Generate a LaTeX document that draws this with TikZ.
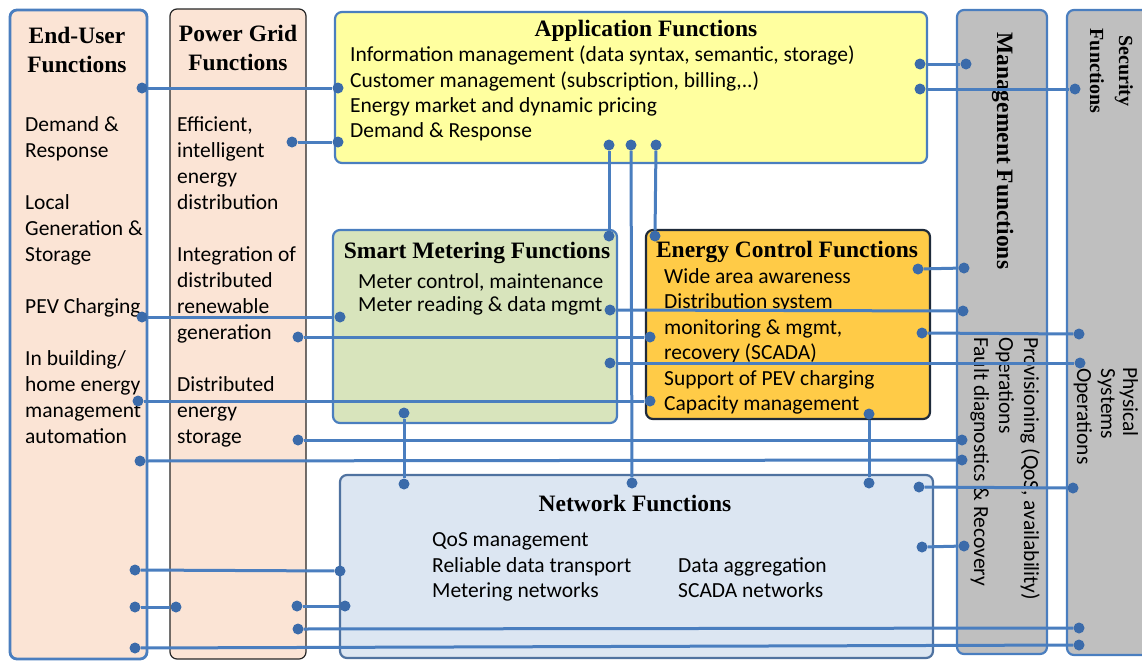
\documentclass[tikz,border=0pt]{standalone}
\usepackage{fontspec}
\setmainfont{Carlito}
\newfontfamily\ttlfont{Liberation Serif}
\definecolor{peach}{HTML}{FBE4D5}
\definecolor{appyel}{HTML}{FFFF9F}
\definecolor{smgreen}{HTML}{D8E4BC}
\definecolor{ecorange}{HTML}{FFCB47}
\definecolor{netblue}{HTML}{DCE6F2}
\definecolor{mgray}{HTML}{BFBFBF}
\definecolor{lineblue}{HTML}{4A7EBF}
\definecolor{dotblue}{HTML}{3B6BAA}
\definecolor{darkedge}{HTML}{1E2A3A}
\definecolor{netedge}{HTML}{4F72A0}
\begin{document}
\begin{tikzpicture}[x=1pt,y=-1pt,
  box/.style={rounded corners=7pt, anchor=north west, inner sep=0pt, outer sep=0pt},
  ttl/.style={font=\ttlfont\bfseries\fontsize{23.5}{26}\selectfont, inner sep=0pt, anchor=base},
  sttl/.style={font=\ttlfont\bfseries\fontsize{20}{24}\selectfont, inner sep=0pt, anchor=base},
  txt/.style={font=\fontsize{21.5}{26}\selectfont, inner sep=0pt, anchor=base west},
  dot/.style={circle, fill=dotblue, inner sep=0pt, minimum size=11pt},
  conn/.style={draw=lineblue, line width=3pt}]
\useasboundingbox (0,0) rectangle (1142,662);
\begin{scope}
\clip (0,0) rectangle (1142,662);
% boxes
\node[box, draw=lineblue, line width=2.8pt, fill=peach, minimum width=137pt, minimum height=649pt] (eu) at (10,10) {};
\node[box, draw=black!85, line width=1.2pt, fill=peach, minimum width=136pt, minimum height=650pt] (pg) at (170,9) {};
\node[box, draw=lineblue, line width=2.2pt, fill=appyel, minimum width=592pt, minimum height=151pt] (app) at (335,12) {};
\node[box, draw=lineblue, line width=2.2pt, fill=smgreen, minimum width=284pt, minimum height=193pt] (sm) at (333,230) {};
\node[box, draw=darkedge, line width=2.2pt, fill=ecorange, minimum width=284pt, minimum height=189pt] (ec) at (646,230) {};
\node[box, draw=netedge, line width=2.2pt, fill=netblue, minimum width=593pt, minimum height=183pt] (net) at (340,475) {};
\node[box, draw=lineblue, line width=2.2pt, fill=mgray, minimum width=90pt, minimum height=644pt] (mg) at (957,10) {};
\node[box, draw=lineblue, line width=2.2pt, fill=mgray, minimum width=100pt, minimum height=645pt] (sec) at (1067,10) {};
% titles
\node[ttl] (eut1) at (77,43) {End-User};
\node[ttl] (eut2) at (77,72) {Functions};
\node[ttl] (pgt1) at (238,41) {Power Grid};
\node[ttl] (pgt2) at (238,70) {Functions};
\node[ttl] (appt) at (646,36) {Application Functions};
\node[ttl] (smt) at (477,258) {Smart Metering Functions};
\node[ttl] (ect) at (787,257) {Energy Control Functions};
\node[ttl] (nett) at (635,511) {Network Functions};
\node[ttl, rotate=-90, anchor=base west] (mgt) at (997,32) {Management Functions};
\node[sttl, rotate=-90] (sect1) at (1119,71) {Security};
\node[sttl, rotate=-90] (sect2) at (1090,71) {Functions};
% end-user body
\foreach \t/\y [count=\i] in {{Demand \&}/131, Response/157, Local/209, {Generation \&}/235, Storage/261, {PEV Charging}/313, {In building/}/365, {home energy}/391, management/417, automation/443}
  \node[txt] (eub\i) at (25,\y) {\t};
% power grid body
\foreach \t/\y [count=\i] in {{Efficient,}/131, intelligent/157, energy/183, distribution/209, {Integration of}/261, distributed/287, renewable/313, generation/339, Distributed/391, energy/417, storage/443}
  \node[txt] (pgb\i) at (177,\y) {\t};
% application body
\foreach \t/\y [count=\i] in {{Information management (data syntax, semantic, storage)}/61, {Customer management (subscription, billing,..)}/87, {Energy market and dynamic pricing}/112, {Demand \& Response}/137}
  \node[txt] (appb\i) at (350,\y) {\t};
% smart metering body
\node[txt] (smb1) at (358,288) {Meter control, maintenance};
\node[txt] (smb2) at (358,311) {Meter reading \& data mgmt};
% energy control body
\foreach \t/\y [count=\i] in {{Wide area awareness}/283, {Distribution system}/308, {monitoring \& mgmt,}/334, {recovery (SCADA)}/359, {Support of PEV charging}/385, {Capacity management}/410}
  \node[txt] (ecb\i) at (664,\y) {\t};
% network body
\node[txt] (nb1) at (432,546) {QoS management};
\node[txt] (nb2) at (432,572) {Reliable data transport};
\node[txt] (nb3) at (432,597) {Metering networks};
\node[txt] (nb4) at (678,572) {Data aggregation};
\node[txt] (nb5) at (678,597) {SCADA networks};
% management body
\node[txt, rotate=-90] (mgb1) at (1024,337) {Provisioning (QoS, availability)};
\node[txt, rotate=-90] (mgb2) at (999,337) {Operations};
\node[txt, rotate=-90] (mgb3) at (974,337) {Fault diagnostics \& Recovery};
% security body
\node[txt, rotate=-90, anchor=base] (sb1) at (1123,402) {Physical};
\node[txt, rotate=-90, anchor=base] (sb2) at (1101,404) {Systems};
\node[txt, rotate=-90] (sb3) at (1077,368) {Operations};
% connectors
\foreach \n/\xa/\ya/\xb/\yb in {
  1/142/88/338/88, 2/292/142/338/142, 3/609/145/609/236, 4/631/145/632/483,
  5/656/145/655/236, 6/920/64/966/64, 7/920/89/1075/89, 8/142/317/340/317,
  9/298/337/650/337, 10/610/310/963/311, 11/918/269/964/268, 12/922/333/1079/334,
  13/610/363/1080/363, 14/138/401/650/401, 15/298/440/962/440, 16/140/461/962/460,
  17/404/413/404/484, 18/869/414/869/483, 19/919/487/1073/488, 20/922/547/964/546,
  21/135/570/340/571, 22/135/607/176/607, 23/297/606/345/606, 24/298/629/1079/628,
  25/135/648/1079/645}{
  \node[dot] (a\n) at (\xa,\ya) {};
  \node[dot] (b\n) at (\xb,\yb) {};
  \draw[conn] (a\n) -- (b\n);
}
\end{scope}
\end{tikzpicture}
\end{document}
